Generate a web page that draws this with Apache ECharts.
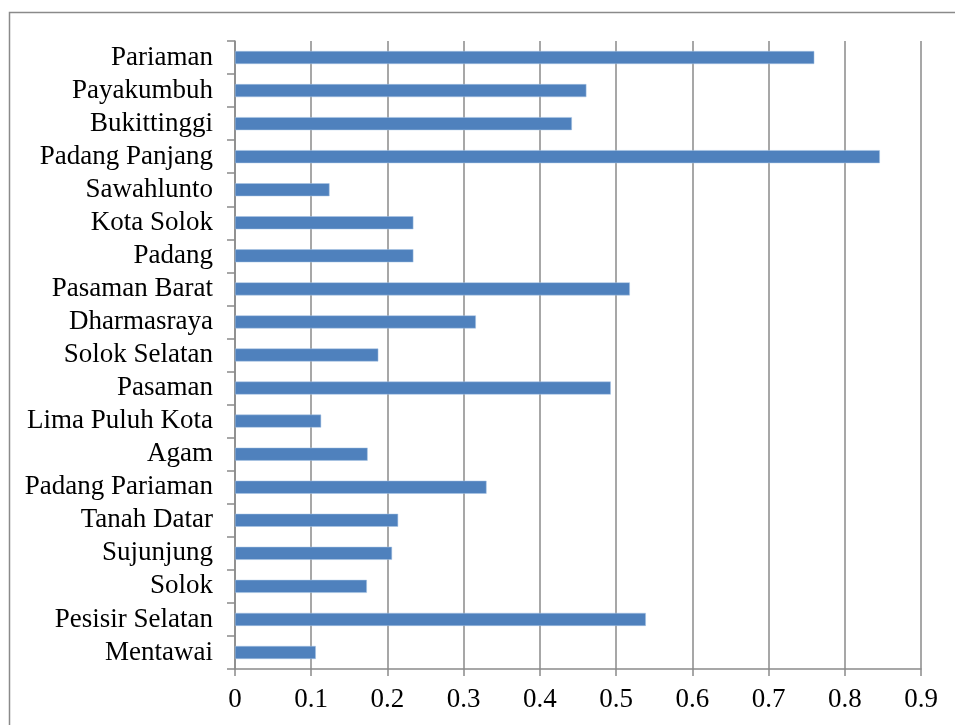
<!DOCTYPE html>
<html>
<head>
<meta charset="utf-8">
<script src="https://cdn.jsdelivr.net/npm/echarts@6/dist/echarts.min.js"></script>
<style>
html,body{margin:0;padding:0;background:#fff;}
#chart{width:955px;height:725px;}
</style>
</head>
<body>
<div id="chart"></div>
<script>
const categories = ["Mentawai","Pesisir Selatan","Solok","Sujunjung","Tanah Datar","Padang Pariaman","Agam","Lima Puluh Kota","Pasaman","Solok Selatan","Dharmasraya","Pasaman Barat","Padang","Kota Solok","Sawahlunto","Padang Panjang","Bukittinggi","Payakumbuh","Pariaman"];
const values = [0.106,0.539,0.173,0.206,0.214,0.330,0.174,0.113,0.493,0.188,0.316,0.518,0.234,0.234,0.124,0.846,0.442,0.461,0.760];
const xTicks = {min:0, max:0.9, interval:0.1};

const chart = echarts.init(document.getElementById('chart'), null, {renderer:'canvas'});
const font = 'Liberation Serif';
chart.setOption({
  animation:false,
  backgroundColor:'#fff',
  graphic:[{type:'rect', shape:{x:9.5,y:12.5,width:1000,height:1000}, style:{fill:'none', stroke:'#8a8a8a', lineWidth:1.5}, silent:true}],
  grid:{left:235, right:34, top:41, bottom:56, containLabel:false},
  xAxis:{
    type:'value', min:xTicks.min, max:xTicks.max, interval:xTicks.interval,
    axisLine:{show:true, lineStyle:{color:'#8a8a8a', width:1.5}},
    axisTick:{show:true, length:7, lineStyle:{color:'#8a8a8a', width:1.5}},
    splitLine:{show:true, lineStyle:{color:'#8a8a8a', width:1.5}},
    axisLabel:{fontFamily:font, fontSize:27, color:'#000', margin:17, formatter:v=>String(Math.round(v*10)/10)}
  },
  yAxis:{
    type:'category', data:categories,
    axisLine:{show:true, lineStyle:{color:'#8a8a8a', width:1.5}},
    axisTick:{show:true, length:8, lineStyle:{color:'#8a8a8a', width:1.5}},
    splitLine:{show:false},
    axisLabel:{fontFamily:font, fontSize:27, color:'#000', margin:22, interval:0}
  },
  series:[{
    type:'bar', data:values, barWidth:13,
    itemStyle:{color:'#4f81bd', borderColor:'#a9c4e4', borderWidth:0.5}
  }]
});
</script>
</body>
</html>
